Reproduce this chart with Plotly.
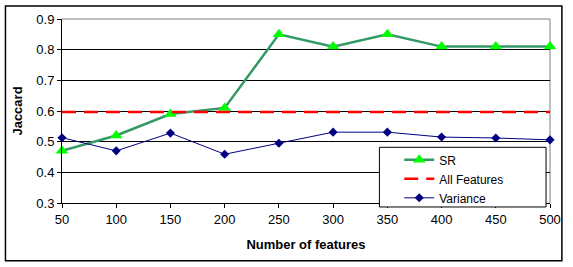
import plotly.graph_objects as go

features = [50, 100, 150, 200, 250, 300, 350, 400, 450, 500]
sr = [0.47, 0.52, 0.59, 0.61, 0.85, 0.81, 0.85, 0.81, 0.81, 0.81]
all_features = [0.597] * 10
variance = [0.513, 0.47, 0.528, 0.459, 0.495, 0.531, 0.531, 0.515, 0.512, 0.506]
y_ticks = [0.3, 0.4, 0.5, 0.6, 0.7, 0.8, 0.9]
y_labels = ["0.3", "0.4", "0.5", "0.6", "0.7", "0.8", "0.9"]

FONT = "Liberation Sans, Arial, sans-serif"
W, H = 573, 267
L, R, T, B = 62, 554, 18, 203

def px(x):
    return (x - L) / (R - L)

def py(y):
    return (B - y) / (B - T)

fig = go.Figure()
fig.add_trace(go.Scatter(
    x=features, y=sr, name="SR", mode="lines+markers",
    line=dict(color="#339966", width=2.5),
    marker=dict(symbol="triangle-up", size=11, color="#00ff00", line=dict(width=0)),
    cliponaxis=False))
fig.add_trace(go.Scatter(
    x=features, y=all_features, name="All Features", mode="lines",
    line=dict(color="#ff0000", width=2.5, dash="14px,8px"),
    cliponaxis=False))
fig.add_trace(go.Scatter(
    x=features, y=variance, name="Variance", mode="lines+markers",
    line=dict(color="#000080", width=1),
    marker=dict(symbol="diamond", size=7, color="#000080"),
    cliponaxis=False))

shapes = [
    dict(type="rect", xref="paper", yref="paper",
         x0=px(5), x1=px(566), y0=py(261), y1=py(5),
         line=dict(color="black", width=1.5), layer="below"),
    dict(type="line", xref="paper", yref="paper", x0=0, x1=1, y0=1, y1=1,
         line=dict(color="#808080", width=1), layer="below"),
    dict(type="line", xref="paper", yref="paper", x0=1, x1=1, y0=0, y1=1,
         line=dict(color="#808080", width=1), layer="below"),
    dict(type="rect", xref="paper", yref="paper",
         x0=px(382), x1=px(550), y0=py(207), y1=py(147),
         line=dict(color="black", width=1), fillcolor="white", layer="above"),
]

fig.update_layout(
    width=W, height=H,
    margin=dict(l=L, r=W - R, t=T, b=H - B),
    paper_bgcolor="white", plot_bgcolor="white",
    font=dict(family=FONT, size=13, color="black"),
    showlegend=True,
    legend=dict(x=px(402), y=py(145), xanchor="left", yanchor="top",
                bgcolor="rgba(0,0,0,0)", borderwidth=0,
                font=dict(family=FONT, size=12, color="black"),
                tracegroupgap=0, itemwidth=30),
    shapes=shapes,
    xaxis=dict(range=[50, 500], tickvals=features, ticktext=[str(f) for f in features],
               showgrid=False, zeroline=False, showline=True, linecolor="black",
               linewidth=1, ticks="outside", ticklen=4, tickcolor="black",
               title=dict(text="<b>Number of features</b>", standoff=14,
                          font=dict(family=FONT, size=13))),
    yaxis=dict(range=[0.3, 0.9], tickvals=y_ticks, ticktext=y_labels,
               showgrid=True, gridcolor="black", gridwidth=1,
               zeroline=False, showline=True, linecolor="black", linewidth=1,
               ticks="outside", ticklen=4, tickcolor="black",
               title=dict(text="<b>Jaccard</b>", standoff=10,
                          font=dict(family=FONT, size=13))),
)

fig.write_html("out.html")
